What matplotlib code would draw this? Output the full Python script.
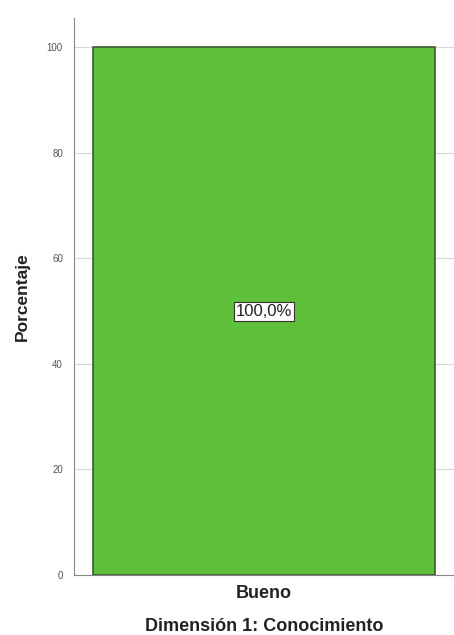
import matplotlib
matplotlib.use("Agg")
import matplotlib.pyplot as plt

categories = ["Bueno"]
values = [100.0]
labels = ["100,0%"]
yticks = [0, 20, 40, 60, 80, 100]

plt.rcParams['font.family'] = ['Liberation Sans', 'DejaVu Sans']

fig = plt.figure(figsize=(4.54, 6.35), dpi=100)
ax = fig.add_axes([74/454, 1-575/635, 1-74/454, (575-18)/635])

ax.set_xlim(-0.5, 0.5)
ax.set_ylim(0, 105.5)
ax.set_yticks(yticks)
ax.yaxis.grid(True, color='#d8d8d8', linewidth=0.8)
ax.set_axisbelow(True)

bars = ax.bar(range(len(categories)), values, width=0.9, color='#60bf3a',
              edgecolor='#3a5a30', linewidth=1.2, zorder=2)
for i, (v, lab) in enumerate(zip(values, labels)):
    ax.text(i, v/2, lab, ha='center', va='center', fontsize=12, color='#222222',
            bbox=dict(boxstyle='square,pad=0.12', facecolor='white', edgecolor='#333333', linewidth=0.8),
            zorder=3)

ax.set_xticks(range(len(categories)))
ax.set_xticklabels(categories, fontsize=13, fontweight='bold', color='#222222')
ax.tick_params(axis='x', length=0, pad=7)
ax.tick_params(axis='y', length=0, pad=8, labelsize=7, labelcolor='#555555')

for s in ['top', 'right']:
    ax.spines[s].set_visible(False)
ax.spines['left'].set_color('#888888')
ax.spines['bottom'].set_color('#888888')

ax.set_ylabel('Porcentaje', fontsize=12.5, fontweight='bold', color='#222222', labelpad=12)
ax.set_xlabel('Dimensión 1: Conocimiento', fontsize=13, fontweight='bold', color='#222222', labelpad=12)

fig.savefig('out.png', dpi=100)
